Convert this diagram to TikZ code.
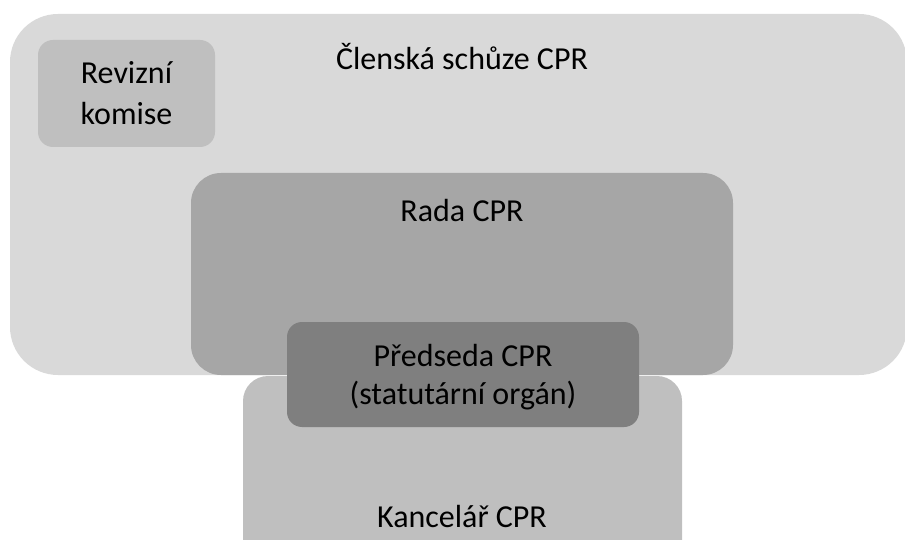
\documentclass[tikz,border=0pt]{standalone}
\usepackage{fontspec}
\setmainfont{Carlito}
\usetikzlibrary{positioning}

\definecolor{schuze}{HTML}{D9D9D9}
\definecolor{revize}{HTML}{BFBFBF}
\definecolor{rada}{HTML}{A6A6A6}
\definecolor{predseda}{HTML}{7F7F7F}
\definecolor{kancelar}{HTML}{BFBFBF}

\begin{document}
\begin{tikzpicture}[
		x=1pt,
		y=-1pt,
		box/.style={
			shape=rectangle,
			inner sep=0pt,
			draw=none,
		},
		popis/.style={
			inner sep=0pt,
			align=center,
			font=\fontsize{32}{38}\selectfont,
		},
	]
		\useasboundingbox (0,0) rectangle (905,540);
		% organy
		\node[box, fill=schuze, rounded corners=48pt,
			minimum width=897pt, minimum height=361pt] (clenska) at (458.5,194.5) {};
		\node[box, fill=revize, rounded corners=15pt,
			minimum width=177pt, minimum height=107pt] (revize) at (126.5,93.5) {};
		\node[box, fill=rada, rounded corners=30pt,
			minimum width=542pt, minimum height=202pt] (rada) at (462,274) {};
		\node[box, fill=kancelar, rounded corners=25pt,
			minimum width=439pt, minimum height=224pt] (kancelar) at (462.5,488) {};
		\node[box, fill=predseda, rounded corners=15pt,
			minimum width=352pt, minimum height=105pt] (predseda) at (463,374.5) {};
		% popisky
		\node[popis, anchor=base] (clenskaText) at (462,70) {Členská schůze CPR};
		\node[popis, font=\fontsize{32}{41}\selectfont] (revizeText) at (revize.center) {Revizní\\komise};
		\node[popis, anchor=base] (radaText) at (462,222) {Rada CPR};
		\node[popis] (predsedaText) at (463,377) {Předseda CPR\\(statutární orgán)};
		\node[popis, anchor=base] (kancelarText) at (462,527) {Kancelář CPR};
\end{tikzpicture}
\end{document}
